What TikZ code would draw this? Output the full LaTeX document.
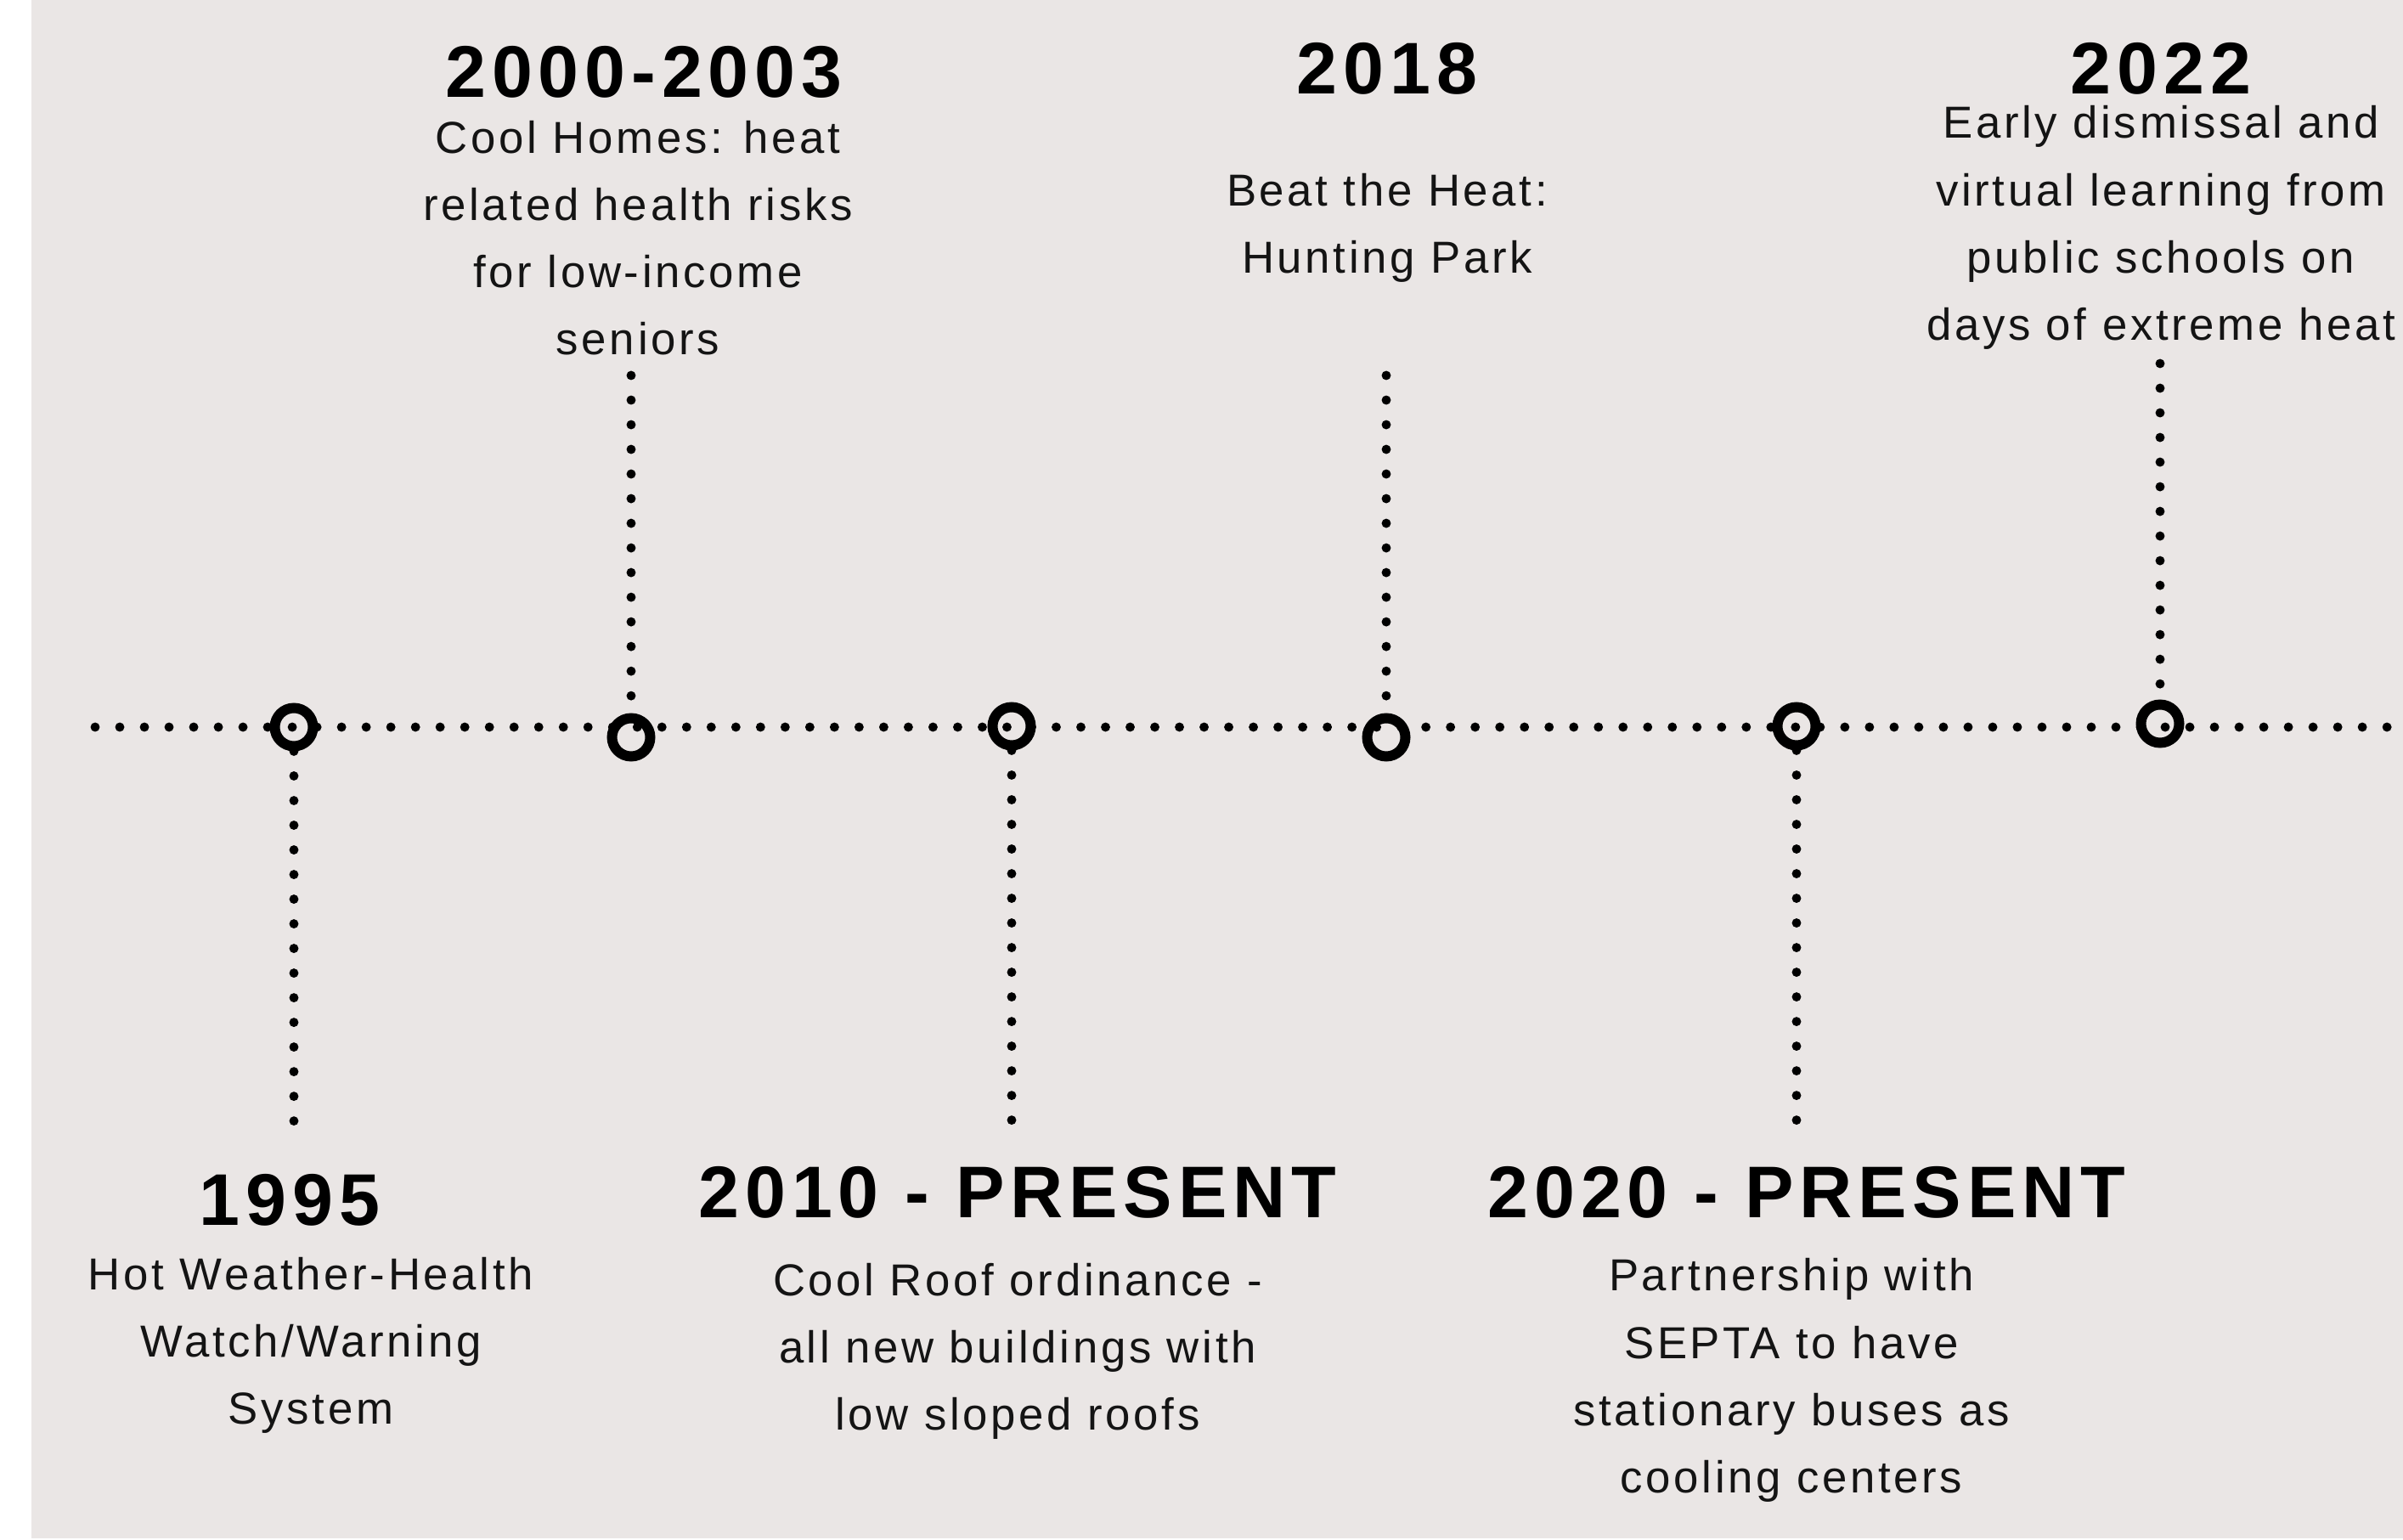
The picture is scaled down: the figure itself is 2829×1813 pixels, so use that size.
\documentclass[tikz,border=0pt]{standalone}
\usepackage{fontspec}
\setmainfont{Liberation Sans}
\newfontfamily\yearfont[LetterSpace=8]{Liberation Sans}
\newfontfamily\notefont[LetterSpace=7]{Liberation Sans}
\definecolor{paper}{RGB}{234,230,229}
\definecolor{ink}{RGB}{20,20,20}
\begin{document}
\begin{tikzpicture}
            [x=0.01cm, y=-0.01cm,
             ring/.style = {circle, draw, line width=3.4pt, minimum size=12.8pt, inner sep=0pt},
             dots/.style = {line width=3.1pt, line cap=round, dash pattern=on 0pt off 8.25pt},
             year/.style = {font=\yearfont\bfseries\fontsize{24.5}{28}\selectfont, inner sep=0pt},
             note/.style = {font=\notefont\fontsize{15}{22.5}\selectfont, text=ink, align=center, inner sep=0pt}]
            \clip (0,0) rectangle (2829,1813);
            \fill[white] (0,0) rectangle (2829,1813);
            \fill[paper] (37,0) rectangle (2829,1811);
            \coordinate (start) at (112,856);
            \coordinate (stop) at (2860,856);
            \draw[dots] (start) -- (stop);
            \node[ring] (r95) at (346,856) {};
            \node[ring] (r00) at (743,868) {};
            \node[ring] (r10) at (1191,855) {};
            \node[ring] (r18) at (1632,868) {};
            \node[ring] (r20) at (2115,855) {};
            \node[ring] (r22) at (2543,852) {};
            \coordinate (e95) at (346,1326);
            \coordinate (e00) at (743,442);
            \coordinate (e10) at (1191,1326);
            \coordinate (e18) at (1632,442);
            \coordinate (e20) at (2115,1326);
            \coordinate (e22) at (2543,428);
            \draw[dots] (r95) -- (e95);
            \draw[dots] (e00) -- (r00);
            \draw[dots] (r10) -- (e10);
            \draw[dots] (e18) -- (r18);
            \draw[dots] (r20) -- (e20);
            \draw[dots] (e22) -- (r22);
            \node[year] (y00) at (758,85) {2000-2003};
            \node[note] (n00) at (751,280) {Cool Homes: heat\\related health risks\\for low-income\\seniors};
            \node[year] (y18) at (1633,81) {2018};
            \node[note] (n18) at (1633,268) {Beat the Heat:\\Hunting Park};
            \node[year] (y22) at (2544,81) {2022};
            \node[note] (n22) at (2544,268) {Early dismissal and\\virtual learning from\\public schools on\\days of extreme heat};
            \node[year] (y95) at (341,1413) {1995};
            \node[note] (n95) at (366,1584) {Hot Weather-Health\\Watch/Warning\\System};
            \node[year] (y10) at (1198,1404) {2010 - PRESENT};
            \node[note] (n10) at (1198,1591) {Cool Roof ordinance -\\all new buildings with\\low sloped roofs};
            \node[year] (y20) at (2127,1404) {2020 - PRESENT};
            \node[note] (n20) at (2109,1625) {Partnership with\\SEPTA to have\\stationary buses as\\cooling centers};
        \end{tikzpicture}
\end{document}
